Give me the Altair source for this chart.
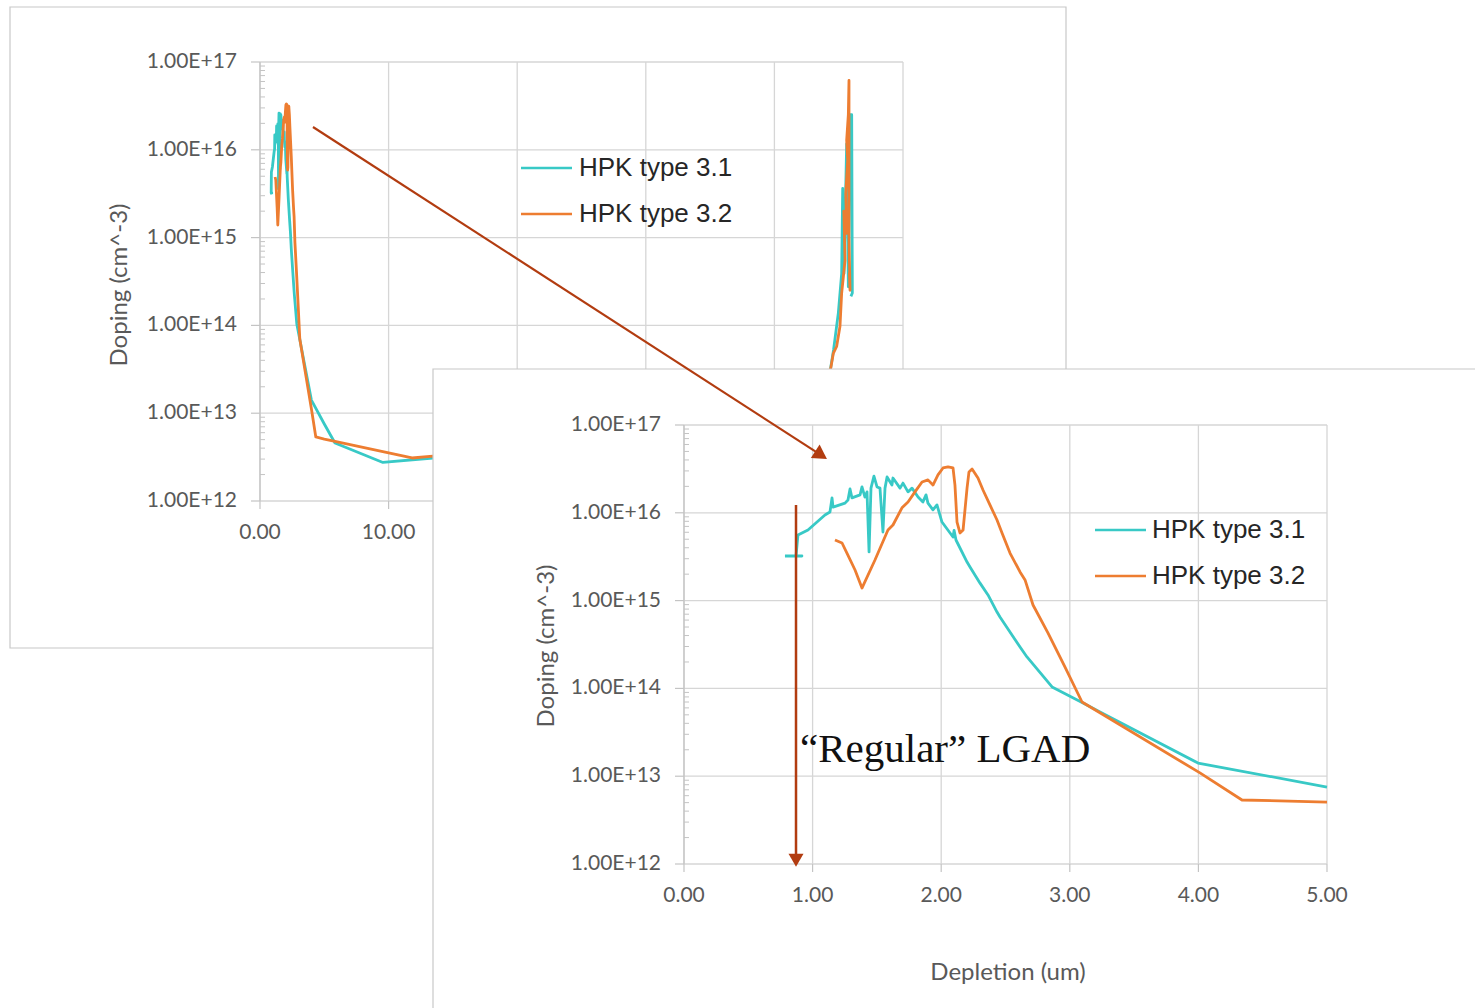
import altair as alt
import pandas as pd

# ---------------- data ----------------
SERIES = ["HPK type 3.1", "HPK type 3.2"]
COLORS = ["#38C9C6", "#ED7D31"]

# depletion depth (um) and doping (cm^-3)
x_31 = [0.785, 0.917, 0.871, 0.886, 0.964, 1.096, 1.135, 1.151, 1.159, 1.252, 1.275, 1.291,
        1.306, 1.369, 1.384, 1.407, 1.423, 1.439, 1.454, 1.477, 1.501, 1.524, 1.547, 1.563,
        1.579, 1.617, 1.625, 1.680, 1.703, 1.742, 1.773, 1.820, 1.858, 1.882, 1.897, 1.936,
        1.967, 2.006, 2.092, 2.100, 2.115, 2.201, 2.224, 2.302, 2.364, 2.434, 2.457, 2.613,
        2.667, 2.862, 3.103, 3.235, 3.997, 5.000, 5.83, 9.56, 13.45, 20.0, 30.0, 38.0, 42.5,
        44.3, 44.6, 44.97, 45.23, 45.31, 45.36, 45.41, 45.62, 45.75, 45.88, 46.01, 46.06, 45.95]
n_31 = [3.22e15, 3.22e15, 3.22e15, 5.58e15, 6.37e15, 9.44e15, 1.02e16, 1.48e16, 1.16e16, 1.29e16,
        1.40e16, 1.87e16, 1.48e16, 1.60e16, 1.97e16, 1.51e16, 1.73e16, 3.58e15, 1.91e16, 2.62e16,
        1.97e16, 1.91e16, 6.04e15, 1.91e16, 2.56e16, 2.07e16, 2.49e16, 1.91e16, 2.18e16, 1.73e16,
        1.91e16, 1.51e16, 1.33e16, 1.60e16, 1.29e16, 1.08e16, 1.23e16, 7.85e15, 5.30e15, 6.31e15,
        4.90e15, 2.75e15, 2.42e15, 1.58e15, 1.16e15, 7.41e14, 6.50e14, 2.96e14, 2.28e14, 1.04e14,
        6.82e13, 5.38e13, 1.41e13, 7.53e12, 4.57e12, 2.75e12, 3.09e12, 3.31e12, 3.63e12, 5.25e12,
        1.12e13, 2.82e13, 5.25e13, 1.38e14, 3.89e14, 3.63e15, 3.98e14, 3.89e14, 1.17e16, 2.75e14,
        2.51e16, 2.51e16, 2.34e14, 2.14e14]

x_32 = [1.174, 1.229, 1.267, 1.330, 1.384, 1.485, 1.586, 1.625, 1.695, 1.742, 1.796, 1.851,
        1.897, 1.936, 1.975, 2.014, 2.053, 2.092, 2.107, 2.123, 2.146, 2.170, 2.201, 2.216,
        2.240, 2.286, 2.325, 2.379, 2.434, 2.473, 2.535, 2.613, 2.652, 2.714, 2.830, 2.963,
        3.095, 4.012, 4.339, 5.000, 5.83, 11.82, 13.45, 20.0, 30.0, 38.0, 42.8,
        44.38, 44.58, 44.84, 45.10, 45.23, 45.36, 45.49, 45.40, 45.62, 45.55, 45.70, 45.62,
        45.75, 45.80, 45.80, 45.88, 45.83]
n_32 = [4.90e15, 4.53e15, 3.48e15, 2.23e15, 1.39e15, 2.90e15, 6.37e15, 7.26e15, 1.14e16, 1.33e16,
        1.73e16, 2.24e16, 2.37e16, 2.07e16, 2.70e16, 3.24e16, 3.33e16, 3.24e16, 2.07e16, 7.85e15,
        5.89e15, 6.37e15, 1.91e16, 2.92e16, 3.15e16, 2.49e16, 1.82e16, 1.23e16, 8.28e15, 5.89e15,
        3.48e15, 2.12e15, 1.72e15, 8.91e14, 4.28e14, 1.75e14, 7.00e13, 1.09e13, 5.36e12, 5.08e12,
        4.79e12, 3.09e12, 3.24e12, 3.39e12, 3.72e12, 5.50e12, 1.26e13,
        3.24e13, 4.79e13, 5.75e13, 9.77e13, 2.34e14, 3.55e14, 5.50e14, 2.00e15, 1.12e15, 3.16e15,
        7.59e15, 1.29e16, 2.51e16, 6.17e16, 1.00e15, 2.51e14, 3.98e14]

Y_TICKS = [1e12, 1e13, 1e14, 1e15, 1e16, 1e17]
Y_LABELS = ["1.00E+12", "1.00E+13", "1.00E+14", "1.00E+15", "1.00E+16", "1.00E+17"]
BACK_X_TICKS = [0, 10, 20, 30, 40, 50]
BACK_X_LABELS = ["0.00", "10.00", "20.00", "30.00", "40.00", "50.00"]
FRONT_X_TICKS = [0, 1, 2, 3, 4, 5]
FRONT_X_LABELS = ["0.00", "1.00", "2.00", "3.00", "4.00", "5.00"]
Y_TITLE = "Doping (cm^-3)"
X_TITLE = "Depletion (um)"
NOTE = "\u201cRegular\u201d LGAD"

# annotation arrows (in the data units of the panel they start in)
ARROW_DIAG_X = [4.12, 43.63]          # back panel units
ARROW_DIAG_N = [1.82e16, 3.33e12]
ARROW_VERT_X = [0.871, 0.871]         # front panel units
ARROW_VERT_N = [1.23e16, 1.10e12]

# ---------------- style / layout ----------------
GRID = "#d6d6d6"
AXIS = "#c4c4c4"
FRAME = "#c8c8c8"
LABEL = "#595959"
ARROW = "#B23C10"
TICK_FONT = "Lato"

# back panel: only the x labels left of the front panel are visible
BACK = dict(frame=(10, 7, 1066, 648), px=(260, 903), py=(501, 62), xmax=50,
            xticks=BACK_X_TICKS, xlabels=BACK_X_LABELS, xlabel_max=10, ytitle=(120, 285), xtitle=None,
            legend=(521, 572, 579, 168, 214), clip=False)
FRONT = dict(frame=(433, 369, 1500, 1030), px=(684, 1327), py=(864, 425), xmax=5,
             xticks=FRONT_X_TICKS, xlabels=FRONT_X_LABELS, xlabel_max=5, ytitle=(547, 646),
             xtitle=(1008, 973), legend=(1095, 1146, 1152, 530, 576), clip=True)

lines = pd.concat([
    pd.DataFrame({"x": x_31, "n": n_31, "series": SERIES[0], "i": range(len(x_31))}),
    pd.DataFrame({"x": x_32, "n": n_32, "series": SERIES[1], "i": range(len(x_32))}),
], ignore_index=True)

color_enc = alt.Color("series:N", scale=alt.Scale(domain=SERIES, range=COLORS), legend=None)


def scales(P):
    xs = alt.Scale(domain=[0, P["xmax"]], range=list(P["px"]), nice=False, zero=False)
    ys = alt.Scale(type="log", domain=[1e12, 1e17], range=list(P["py"]), nice=False)
    return xs, ys


def panel(P):
    xs, ys = scales(P)
    X = lambda f: alt.X(f, type="quantitative", scale=xs, axis=None)
    Y = lambda f: alt.Y(f, type="quantitative", scale=ys, axis=None)
    L = []
    one = pd.DataFrame({"k": [0]})
    fx0, fy0, fx1, fy1 = P["frame"]
    L.append(alt.Chart(one).mark_rect(fill="white", stroke=FRAME, strokeWidth=1.2).encode(
        x=alt.value(fx0), x2=alt.value(fx1), y=alt.value(fy0), y2=alt.value(fy1)))
    # grid
    vg = pd.DataFrame({"x": P["xticks"], "y0": 1e12, "y1": 1e17})
    L.append(alt.Chart(vg).mark_rule(color=GRID, strokeWidth=1.3).encode(
        x=X("x"), y=Y("y0"), y2="y1"))
    hg = pd.DataFrame({"y": Y_TICKS, "x0": 0, "x1": P["xmax"]})
    L.append(alt.Chart(hg).mark_rule(color=GRID, strokeWidth=1.3).encode(
        y=Y("y"), x=X("x0"), x2="x1"))
    # y axis line
    L.append(alt.Chart(pd.DataFrame({"x": [0], "y0": [1e12], "y1": [1e17]})).mark_rule(
        color=AXIS, strokeWidth=1.3).encode(x=X("x"), y=Y("y0"), y2="y1"))
    # major y ticks (outside)
    L.append(alt.Chart(pd.DataFrame({"y": Y_TICKS, "x": 0})).mark_rule(
        color=AXIS, strokeWidth=1.2, xOffset=-9).encode(x=X("x"), x2="x", y=Y("y")))
    # minor y ticks (inside)
    minor = [m * 10.0 ** k for k in range(12, 17) for m in range(2, 10)]
    L.append(alt.Chart(pd.DataFrame({"y": minor, "x": 0})).mark_rule(
        color=AXIS, strokeWidth=1, x2Offset=5).encode(x=X("x"), x2="x", y=Y("y")))
    # x ticks
    L.append(alt.Chart(pd.DataFrame({"x": P["xticks"], "y": 1e12})).mark_rule(
        color=AXIS, strokeWidth=1.2, y2Offset=8).encode(x=X("x"), y=Y("y"), y2="y"))
    # tick labels
    L.append(alt.Chart(pd.DataFrame({"y": Y_TICKS, "x": 0, "t": Y_LABELS})).mark_text(
        align="right", baseline="middle", dx=-23, font=TICK_FONT, fontSize=21, color=LABEL).encode(
        x=X("x"), y=Y("y"), text="t:N"))
    L.append(alt.Chart(pd.DataFrame({"x": P["xticks"], "y": 1e12, "t": P["xlabels"]}))
             .transform_filter(alt.datum.x <= P["xlabel_max"])
             .mark_text(align="center", baseline="middle", dy=32, font=TICK_FONT, fontSize=21,
                        color=LABEL).encode(x=X("x"), y=Y("y"), text="t:N"))
    # titles
    tx, ty = P["ytitle"]
    L.append(alt.Chart(pd.DataFrame({"t": [Y_TITLE]})).mark_text(
        angle=270, align="center", baseline="middle", font=TICK_FONT, fontSize=24, color=LABEL).encode(
        x=alt.value(tx), y=alt.value(ty), text="t:N"))
    if P["xtitle"]:
        tx, ty = P["xtitle"]
        L.append(alt.Chart(pd.DataFrame({"t": [X_TITLE]})).mark_text(
            align="center", baseline="middle", font=TICK_FONT, fontSize=24, color=LABEL).encode(
            x=alt.value(tx), y=alt.value(ty), text="t:N"))
    # data
    ch = alt.Chart(lines)
    if P["clip"]:
        ch = ch.transform_filter(alt.datum.x <= P["xmax"] + 1e-9)
    L.append(ch.mark_line(strokeWidth=2.8, strokeJoin="round").encode(
        x=X("x"), y=Y("n"), color=color_enc, order="i:Q"))
    # legend
    lx0, lx1, ltx, ly0, ly1 = P["legend"]
    leg = pd.DataFrame({"series": SERIES, "row": [0, 1]})
    rowy = alt.Y("row:Q", scale=alt.Scale(domain=[0, 1], range=[ly0, ly1]), axis=None)
    L.append(alt.Chart(leg).mark_rule(strokeWidth=2.6).encode(
        x=alt.value(lx0), x2=alt.value(lx1), y=rowy, color=color_enc))
    L.append(alt.Chart(leg).mark_text(align="left", baseline="middle", font="Liberation Sans",
                                      fontSize=26, color="#262626").encode(
        x=alt.value(ltx), y=rowy, text="series:N"))
    return L


layers = panel(BACK) + panel(FRONT)

# front-panel annotations
fxs, fys = scales(FRONT)
bxs, bys = scales(BACK)
layers.append(alt.Chart(pd.DataFrame({"t": [NOTE]})).mark_text(
    align="left", baseline="alphabetic", font="Liberation Serif", fontSize=41, color="#111111").encode(
    x=alt.value(800), y=alt.value(762), text="t:N"))

va = pd.DataFrame({"x": [ARROW_VERT_X[0]], "y": [ARROW_VERT_N[0]],
                   "x2": [ARROW_VERT_X[1]], "y2": [ARROW_VERT_N[1]]})
layers.append(alt.Chart(va).mark_rule(color=ARROW, strokeWidth=2.5).encode(
    x=alt.X("x:Q", scale=fxs, axis=None), y=alt.Y("y:Q", scale=fys, axis=None), y2="y2"))
layers.append(alt.Chart(va).mark_point(shape="triangle-down", filled=True, size=225, opacity=1,
                                       color=ARROW).encode(
    x=alt.X("x2:Q", scale=fxs, axis=None), y=alt.Y("y2:Q", scale=fys, axis=None)))

da = pd.DataFrame({"x": [ARROW_DIAG_X[0]], "y": [ARROW_DIAG_N[0]],
                   "x2": [ARROW_DIAG_X[1]], "y2": [ARROW_DIAG_N[1]]})
layers.append(alt.Chart(da).mark_rule(color=ARROW, strokeWidth=2.2).encode(
    x=alt.X("x:Q", scale=bxs, axis=None), y=alt.Y("y:Q", scale=bys, axis=None), x2="x2", y2="y2"))
layers.append(alt.Chart(da).mark_point(shape="triangle-right", filled=True, size=260, opacity=1,
                                       angle=33, color=ARROW).encode(
    x=alt.X("x2:Q", scale=bxs, axis=None), y=alt.Y("y2:Q", scale=bys, axis=None)))

chart = alt.layer(*layers).resolve_scale(x="independent", y="independent").properties(
    width=1475, height=1008, padding=0, autosize=alt.AutoSizeParams(type="none"),
    background="white",
).configure_view(stroke=None)

chart.save("out.html", embed_options={"renderer": "svg", "actions": False})
